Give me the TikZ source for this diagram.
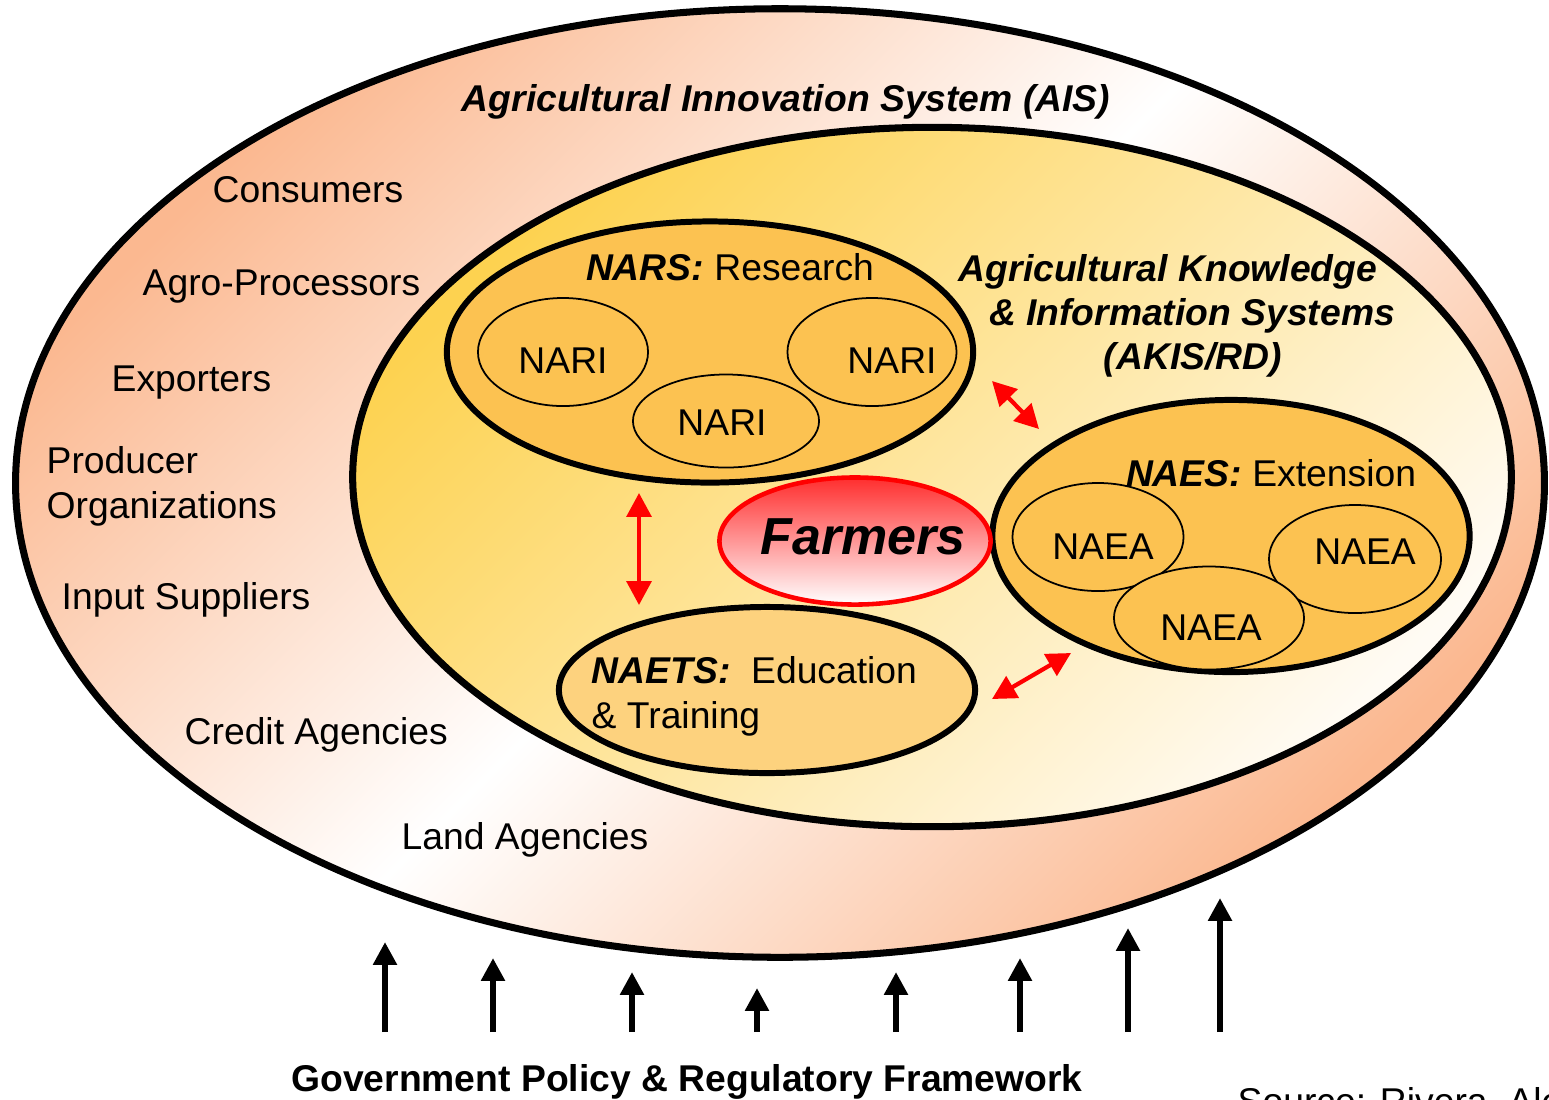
\documentclass[tikz,border=0pt]{standalone}
\usepackage{fontspec}
\setmainfont{Liberation Sans}
\usetikzlibrary{shapes.geometric,arrows.meta}

\definecolor{aispeach}{HTML}{FBB890}
\definecolor{akisyellow}{HTML}{FDD250}
\definecolor{akiscream}{HTML}{FFFBF4}
\definecolor{unitfill}{HTML}{FCC251}
\definecolor{naetsfill}{HTML}{FDD27E}
\definecolor{farmred}{HTML}{FF2E2E}

\begin{document}
\begin{tikzpicture}[x=0.01cm, y=-0.01cm,
	every node/.style={font=\fontsize{10.6pt}{12.8pt}\selectfont},
	ring/.style={ellipse, draw, inner sep=0pt, line width=1.7pt},
	unit/.style={ellipse, draw, inner sep=0pt, line width=0.5pt, fill=unitfill},
	tag/.style={anchor=base west, inner sep=0pt},
	ctag/.style={anchor=base, inner sep=0pt},
	head/.style={font=\fontsize{10.6pt}{12.8pt}\selectfont\bfseries\itshape},
	link/.style={red, line width=1.2pt, {Triangle[length=6.8pt,width=7pt]}-{Triangle[length=6.8pt,width=7pt]}},
	govarrow/.style={line width=1.7pt, -{Triangle[length=6.5pt,width=6.5pt]}}]
	
	\path[use as bounding box, clip] (0,0) rectangle (1549,1099);
	
	%%%%% rings %%%%%
	\node[ring, line width=2pt, minimum width=15.28cm, minimum height=9.48cm,
		top color=aispeach, bottom color=aispeach, middle color=white, shading angle=45] (ais) at (780,483) {};
	\node[ring, line width=2pt, minimum width=11.58cm, minimum height=6.99cm,
		top color=akisyellow, bottom color=akiscream, shading angle=45] (akis) at (932,477) {};
	
	\node[ring, fill=unitfill, minimum width=5.26cm, minimum height=2.61cm] (nars) at (710,352) {};
	\node[unit, minimum width=1.70cm, minimum height=1.08cm] (nariA) at (563,352) {};
	\node[unit, minimum width=1.69cm, minimum height=1.08cm] (nariB) at (872,352) {};
	\node[unit, minimum width=1.86cm, minimum height=0.93cm] (nariC) at (726,421) {};
	
	\node[ring, fill=unitfill, minimum width=4.77cm, minimum height=2.72cm] (naes) at (1231,536) {};
	\node[unit, minimum width=1.71cm, minimum height=1.08cm] (naeaA) at (1098,537) {};
	\node[unit, minimum width=1.72cm, minimum height=1.08cm] (naeaB) at (1355,559) {};
	\node[unit, minimum width=1.90cm, minimum height=1.03cm] (naeaC) at (1209,618) {};
	
	\node[ring, fill=naetsfill, minimum width=4.16cm, minimum height=1.66cm] (naets) at (767,690) {};
	
	\node[ring, draw=red, line width=1.3pt, minimum width=2.71cm, minimum height=1.27cm,
		top color=farmred, bottom color=white] (farmers) at (855,541) {};
	
	%%%%% texts %%%%%
	\node[ctag, head] (aistitle) at (786,111) {Agricultural Innovation System (AIS)};
	
	\node[tag] (consumers) at (212,202) {Consumers};
	\node[tag] (agro) at (142,295) {Agro-Processors};
	\node[tag] (exporters) at (111,391) {Exporters};
	\node[tag, align=left] (producer) at (46,518) {Producer\\Organizations};
	\node[tag] (input) at (61,609) {Input Suppliers};
	\node[tag] (credit) at (184,744) {Credit Agencies};
	\node[tag] (land) at (401,849) {Land Agencies};
	
	\node[ctag] (narstitle) at (730,280) {\textbf{\textit{NARS:}} Research};
	\node[ctag] at (563,373) {NARI};
	\node[ctag] at (892,373) {NARI};
	\node[ctag] at (722,435) {NARI};
	
	\node[ctag, head] (akisA) at (1168,281) {Agricultural Knowledge};
	\node[ctag, head] (akisB) at (1192,325) {\& Information Systems};
	\node[ctag, head] (akisC) at (1193,369) {(AKIS/RD)};
	
	\node[ctag] (naestitle) at (1271,486) {\textbf{\textit{NAES:}} Extension};
	\node[ctag] at (1103,559) {NAEA};
	\node[ctag] at (1365,564) {NAEA};
	\node[ctag] at (1211,640) {NAEA};
	
	\node[tag, align=left] (naetstitle) at (591,728) {\textbf{\textit{NAETS:}}\ \ Education\\\& Training};
	
	\node[ctag, font=\fontsize{14.8pt}{17pt}\selectfont\bfseries\itshape] (farmtext) at (863,554) {Farmers};
	
	\node[ctag, font=\fontsize{10.6pt}{12.8pt}\selectfont\bfseries] (gov) at (687,1091) {Government Policy \& Regulatory Framework};
	\node[tag] (source) at (1237,1114) {Source: Rivera, Alex};
	
	%%%%% links %%%%%
	\coordinate (lAa) at (639,493);
	\coordinate (lAb) at (639,605);
	\coordinate (lBa) at (992,381);
	\coordinate (lBb) at (1039,429);
	\coordinate (lCa) at (992,699);
	\coordinate (lCb) at (1071,653);
	\draw[link] (lAa) -- (lAb);
	\draw[link] (lBa) -- (lBb);
	\draw[link] (lCa) -- (lCb);
	
	%%%%% policy arrows %%%%%
	\foreach \x/\t [count=\i] in {385/942, 493/958, 632/972, 757/988, 896/972, 1020/958, 1128/928, 1220/898}{
		\coordinate (gb\i) at (\x,1032);
		\coordinate (gt\i) at (\x,\t);
		\draw[govarrow] (gb\i) -- (gt\i);
	}
	
\end{tikzpicture}
\end{document}
